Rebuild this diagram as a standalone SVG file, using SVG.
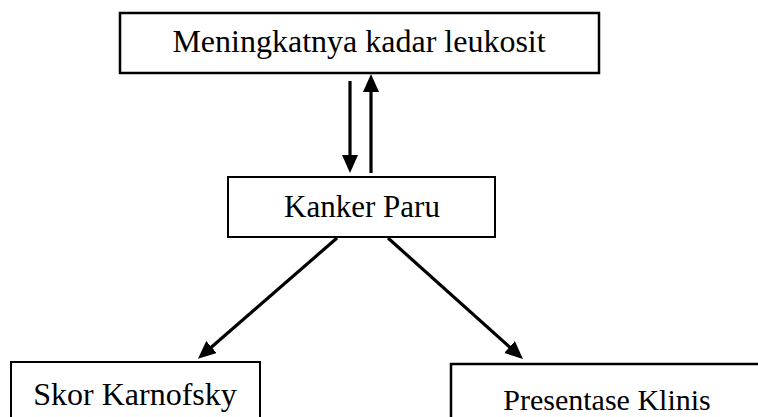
<svg xmlns="http://www.w3.org/2000/svg" width="758" height="417" viewBox="0 0 758 417">
  <style>
    .box { fill: #fff; stroke: #000; stroke-width: 2; }
    .lbl { font-family: "Liberation Serif", "Times New Roman", serif; font-size: 31px; fill: #000; text-anchor: middle; }
    .conn { stroke: #000; stroke-width: 3.2; fill: none; marker-end: url(#arrow); }
  </style>
  <defs>
    <marker id="arrow" markerUnits="userSpaceOnUse" markerWidth="20" markerHeight="18" refX="6" refY="8" orient="auto">
      <path d="M0,0 L18,8 L0,16 Z" fill="#000"/>
    </marker>
  </defs>
  <rect width="758" height="417" fill="#fff"/>
  <g id="connectors">
    <line class="conn" x1="350" y1="81" x2="350" y2="161"/>
    <line class="conn" x1="371" y1="173" x2="371" y2="86"/>
    <line class="conn" x1="337" y1="238" x2="207" y2="351"/>
    <line class="conn" x1="388" y1="238" x2="514" y2="351"/>
  </g>
  <g id="node-leukosit">
    <rect class="box" x="120" y="13" width="479" height="60" style="stroke-width:2.5"/>
    <text class="lbl" x="359" y="52" style="font-size:32px">Meningkatnya kadar leukosit</text>
  </g>
  <g id="node-kanker">
    <rect class="box" x="228" y="177" width="267" height="60"/>
    <text class="lbl" x="362" y="217">Kanker Paru</text>
  </g>
  <g id="node-skor">
    <rect class="box" x="11" y="362" width="249" height="70"/>
    <text class="lbl" x="135" y="405" style="font-size:32px">Skor Karnofsky</text>
  </g>
  <g id="node-presentase">
    <rect class="box" x="451" y="364" width="320" height="70" style="stroke-width:2.5"/>
    <text class="lbl" x="607" y="410" style="font-size:30px">Presentase Klinis</text>
  </g>
</svg>
